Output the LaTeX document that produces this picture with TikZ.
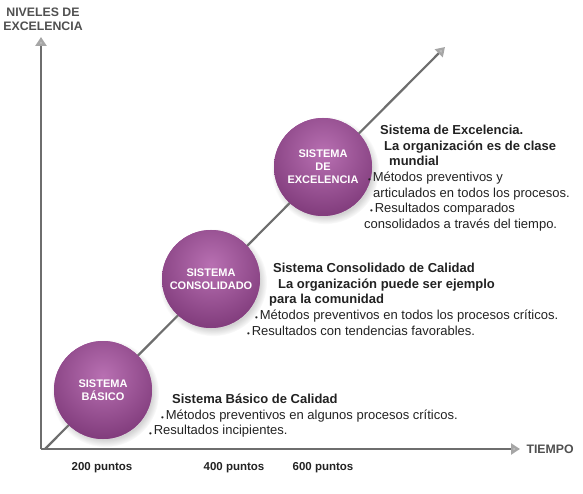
\documentclass[tikz,border=0pt]{standalone}
\usepackage{fontspec}
\setmainfont{Liberation Sans}
\usepackage{xcolor}
\usetikzlibrary{arrows.meta, positioning, shadows}
\definecolor{ballpurple}{HTML}{A04A9A}
\definecolor{balllight}{HTML}{B870B2}
\definecolor{axisgray}{HTML}{6E6E6E}
\definecolor{labelgray}{HTML}{505050}
\definecolor{textdark}{HTML}{222222}

\tikzset{
    sysball/.style={circle, minimum size=98pt, inner sep=0pt, fill=ballpurple,
        circular drop shadow={shadow xshift=2pt, shadow yshift=-3pt, opacity=.35},
        path picture={\shade[inner color=balllight, outer color=ballpurple!80!black]
            ([yshift=14pt]path picture bounding box.center) circle (64pt);},
        text=white, font=\fontsize{11}{13}\selectfont\bfseries, align=center},
    axisline/.style={line width=2.6pt, axisgray, -{Triangle[width=11pt, length=9pt, fill=gray!50, color=gray!70]}},
    axislabel/.style={labelgray, font=\fontsize{12.3}{14}\selectfont\bfseries, align=center},
    descr/.style={anchor=north west, inner sep=0pt, align=left, textdark,
        font=\fontsize{13}{15.6}\selectfont},
    puntos/.style={textdark, font=\fontsize{11.5}{13}\selectfont\bfseries},
}
\newcommand{\bul}{\raisebox{-1.2pt}{\fontsize{8}{8}\selectfont\textbullet}\kern1.8pt}

\begin{document}
\begin{tikzpicture}[x=1pt, y=-1pt, >=Stealth]
    \useasboundingbox (0,0) rectangle (583,494);

    % Axes
    \coordinate (origin) at (41,449);
    \coordinate (ytip) at (41,37);
    \coordinate (xtip) at (520,449);
    \coordinate (dstart) at (45,449);
    \coordinate (dtip) at (445,47);
    \draw[axisline] (origin) -- (ytip);
    \draw[axisline] (origin) -- (xtip);
    \draw[axisline, line width=2.2pt] (dstart) -- (dtip);

    % Axis labels
    \node[axislabel] (niveles) at (43,19) {NIVELES DE\\EXCELENCIA};
    \node[axislabel, right=3pt of xtip] (tiempo) {TIEMPO};

    % Stages
    \node[sysball] (basico) at (103,390) {SISTEMA\\BÁSICO};
    \node[sysball] (consolidado) at (211,279) {SISTEMA\\CONSOLIDADO};
    \node[sysball] (excelencia) at (323,167) {SISTEMA\\DE\\EXCELENCIA};

    % Descriptions
    \node[descr] (dbasico) at (149,394) {\hspace*{23pt}\textbf{Sistema Básico de Calidad}\\
        \hspace*{12pt}\bul Métodos preventivos en algunos procesos críticos.\\
        \bul Resultados incipientes.};
    \node[descr] (dconsolidado) at (247,263) {\hspace*{26pt}\textbf{Sistema Consolidado de Calidad}\\
        \hspace*{31pt}\textbf{La organización puede ser ejemplo}\\
        \hspace*{22pt}\textbf{para la comunidad}\\
        \hspace*{8pt}\bul Métodos preventivos en todos los procesos críticos.\\
        \bul Resultados con tendencias favorables.};
    \node[descr] (dexcelencia) at (364,125) {\hspace*{16pt}\textbf{Sistema de Excelencia.}\\
        \hspace*{20pt}\textbf{La organización es de clase}\\
        \hspace*{25pt}\textbf{mundial}\\
        \hspace*{4pt}\bul Métodos preventivos y\\
        \hspace*{9pt}articulados en todos los procesos.\\
        \hspace*{6pt}\bul Resultados comparados\\
        consolidados a través del tiempo.};

    % Time marks
    \node[puntos] (p200) at (102,468) {200 puntos};
    \node[puntos] (p400) at (234,468) {400 puntos};
    \node[puntos] (p600) at (323,468) {600 puntos};
\end{tikzpicture}
\end{document}
